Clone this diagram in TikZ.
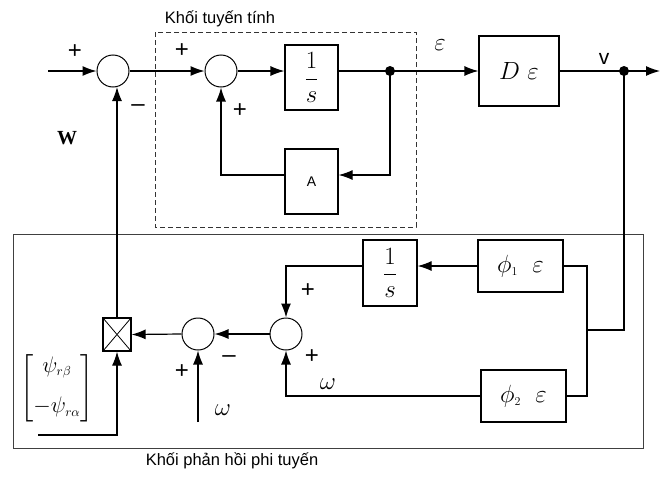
\documentclass[tikz,border=0pt]{standalone}
\usepackage{amsmath}
\usepackage[no-math]{fontspec}
\setmainfont{Liberation Sans}
\newfontfamily\seriffont{Liberation Serif}
\usetikzlibrary{positioning,arrows.meta,calc}

\begin{document}
\begin{tikzpicture}[x=1pt,y=-1pt,
        every node/.style={inner sep=0pt},
        sumnode/.style={draw, circle, minimum size=32pt, line width=1pt},
        blk/.style={draw, rectangle, line width=1.2pt},
        lbl/.style={font=\fontsize{16.5}{18}\selectfont},
        sgn/.style={font=\fontsize{24}{24}\selectfont},
        big/.style={font=\fontsize{26}{26}\selectfont},
        arrow/.style={-{Latex[length=14pt,width=10pt]}, line width=1.2pt},
        wire/.style={line width=1.2pt}]
    \useasboundingbox (0,0) rectangle (660,482);

    %%% frames
    % linear part
    \draw[dash pattern=on 5pt off 3pt, line width=0.9pt, black!80] (155,32) rectangle (416,227);
    \node[lbl] (linlabel) at (220,19) {Khối tuyến tính};
    % nonlinear feedback part
    \draw[line width=0.9pt, black!75] (13,234) rectangle (643,448);
    \node[lbl] (fblabel) at (232,461) {Khối phản hồi phi tuyến};

    %%% upper path
    \coordinate (input) at (48,71);
    \node[sumnode] (sumA) at (113,71) {};
    \node[sumnode] (sumB) at (221,71) {};
    \node[blk, minimum width=53pt, minimum height=65pt, font=\fontsize{23}{23}\selectfont] (integ) at (311.5,77.5) {$\dfrac{1}{s}$};
    \node[blk, minimum width=53pt, minimum height=65pt, font=\fontsize{14}{14}\selectfont] (gainA) at (311.5,181.5) {A};
    \coordinate (dot) at (390,71);
    \coordinate (gainin) at ($(gainA.east)+(0,-6.5)$);
    \node[blk, minimum width=80pt, minimum height=70pt, big] (dblock) at (519,71) {$D\ \varepsilon$};
    \coordinate (vdot) at (624,71);
    \coordinate (output) at (660,71);

    %%% lower path
    \node[blk, minimum width=85pt, minimum height=52pt, big] (phiA) at (520.5,266) {$\phi_{\scriptscriptstyle 1}\ \ \varepsilon$};
    \node[blk, minimum width=85pt, minimum height=52pt, big] (phiB) at (523.5,396) {$\phi_{\scriptscriptstyle 2}\ \ \varepsilon$};
    \node[blk, minimum width=54pt, minimum height=66pt, font=\fontsize{23}{23}\selectfont] (integB) at (390,273) {$\dfrac{1}{s}$};
    \coordinate (junc) at (587,330);
    \node[sumnode] (sumC) at (286,334) {};
    \node[sumnode] (sumD) at (198,334) {};
    \node[blk, minimum width=28pt, minimum height=33pt,
          path picture={\draw[line width=0.8pt] (path picture bounding box.north west) -- (path picture bounding box.south east)
                        (path picture bounding box.south west) -- (path picture bounding box.north east);}] (mux) at (117,334.5) {};
    \coordinate (omegain) at (198,422);
    \coordinate (matstart) at (38,435);
    \node[font=\fontsize{17.28}{17.28}\selectfont, scale=1.3] (psivec) at (57,388)
        {$\left[\begin{array}{@{}c@{}}\psi_{\scriptscriptstyle r\beta}\\[14pt] -\psi_{\scriptscriptstyle r\alpha}\end{array}\right]$};

    %%% connections
    \draw[arrow] (input) -- (sumA.west);
    \draw[arrow] (sumA.east) -- (sumB.west);
    \draw[arrow] (sumB.east) -- (sumB.east -| integ.west);
    \draw[wire] (dot -| integ.east) -- (dot);
    \draw[arrow] (dot) -- (dblock.west);
    \draw[arrow] (dot) |- (gainin);
    \draw[arrow] (gainin -| gainA.west) -| (sumB.south);
    \draw[wire] (dblock.east) -- (vdot);
    \draw[arrow] (vdot) -- (output);
    \draw[wire] (vdot) |- (junc);
    \draw[wire] (phiA.east) -| (junc) |- (phiB.east);
    \draw[arrow] (phiA.west) -- (phiA.west -| integB.east);
    \draw[arrow] (phiA.west -| integB.west) -| (sumC.north);
    \draw[arrow] (phiB.west) -| (sumC.south);
    \draw[arrow] (sumC.west) -- (sumD.east);
    \draw[arrow] (sumD.west) -- (mux.east);
    \draw[arrow] (omegain) -- (sumD.south);
    \draw[arrow] (matstart) -| (mux.south);
    \draw[arrow] (mux.north) -- (mux.north |- sumA.-76);
    \fill (dot) circle (5pt);
    \fill (vdot) circle (5pt);

    %%% signs and labels
    \node[sgn] (pA) at (75,52) {+};
    \node[sgn] (mA) at (138,108) {--};
    \node[sgn] (pB) at (182,51) {+};
    \node[sgn] (pB2) at (240,111) {+};
    \node[sgn] (pC) at (308,291) {+};
    \node[sgn] (pC2) at (312,357) {+};
    \node[sgn] (mD) at (229,359) {--};
    \node[sgn] (pD) at (182,372) {+};
    \node[font=\seriffont\bfseries\fontsize{20}{20}\selectfont] (wlabel) at (67,138) {W};
    \node[big] (eps) at (440,45) {$\varepsilon$};
    \node[font=\fontsize{21}{21}\selectfont] (vlabel) at (604,59) {v};
    \node[big] (omegaA) at (223,410) {$\omega$};
    \node[big] (omegaB) at (328,384) {$\omega$};
\end{tikzpicture}
\end{document}
